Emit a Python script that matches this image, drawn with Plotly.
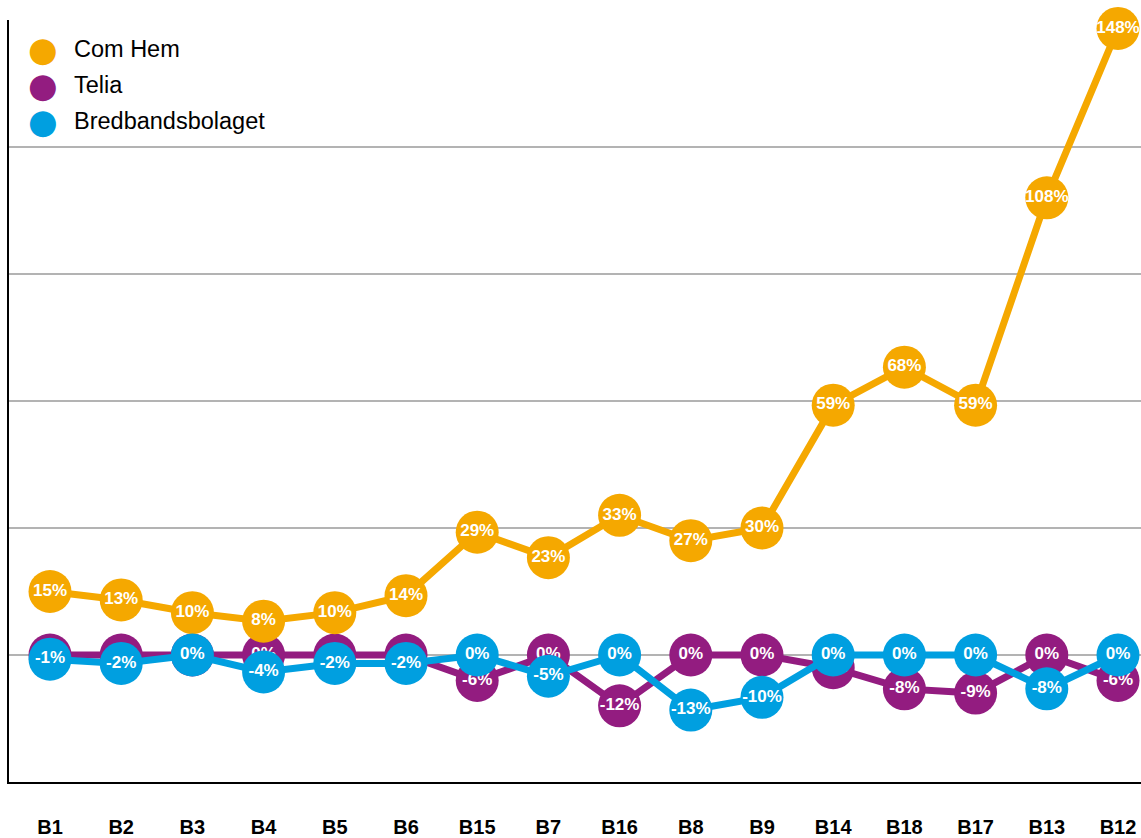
import plotly.graph_objects as go

categories = ["B1", "B2", "B3", "B4", "B5", "B6", "B15", "B7", "B16", "B8",
              "B9", "B14", "B18", "B17", "B13", "B12"]
com_hem = [15, 13, 10, 8, 10, 14, 29, 23, 33, 27, 30, 59, 68, 59, 108, 148]
telia = [0, 0, 0, 0, 0, 0, -6, 0, -12, 0, 0, -3, -8, -9, 0, -6]
bredband = [-1, -2, 0, -4, -2, -2, 0, -5, 0, -13, -10, 0, 0, 0, -8, 0]

series = [
    ("Telia", telia, "#931C80"),
    ("Com Hem", com_hem, "#F5A800"),
    ("Bredbandsbolaget", bredband, "#009FE0"),
]
legend_order = [("Com Hem", "#F5A800"), ("Telia", "#931C80"), ("Bredbandsbolaget", "#009FE0")]

FONT = "Liberation Sans, Arial, Helvetica, sans-serif"

W, H = 1141, 838
ML, MT, MB = 9, 20, 838 - 785
PW, PH = W - ML, H - MT - MB

fig = go.Figure()
for name, vals, color in series:
    fig.add_trace(go.Scatter(
        x=list(range(len(categories))), y=vals, name=name,
        mode="lines+markers+text",
        line=dict(color=color, width=7),
        marker=dict(color=color, size=43, line=dict(width=0)),
        text=[f"<b>{v}%</b>" for v in vals],
        textposition="middle center",
        textfont=dict(color="white", size=17, family=FONT),
        cliponaxis=False,
        showlegend=False,
        hoverinfo="skip",
    ))

# custom legend (large circles)
for i, (name, color) in enumerate(legend_order):
    ypix = 49 + i * 36 - MT
    fig.add_annotation(text="●", xref="paper", yref="paper",
                       x=(43 - ML) / PW, y=1 - ypix / PH,
                       xanchor="center", yanchor="middle", showarrow=False,
                       font=dict(size=34, color=color, family="DejaVu Sans"))
    fig.add_annotation(text=name, xref="paper", yref="paper",
                       x=(72 - ML) / PW, y=1 - ypix / PH,
                       xanchor="left", yanchor="middle", showarrow=False,
                       font=dict(size=23.5, color="black", family=FONT))

sp = 71.2
fig.update_xaxes(
    tickmode="array", tickvals=list(range(len(categories))),
    ticktext=[f"<b>{c}</b>" for c in categories],
    range=[-(50 - ML) / sp, -(50 - ML) / sp + PW / sp],
    showgrid=False, zeroline=False,
    showline=True, linecolor="black", linewidth=2,
    ticks="", ticklabelstandoff=26,
    tickfont=dict(size=20, color="black", family=FONT),
)
fig.update_yaxes(
    range=[-30, 150], tickvals=[0, 30, 60, 90, 120, 150],
    showticklabels=False, showgrid=True, gridcolor="#B3B3B3", gridwidth=1.5,
    zeroline=False, showline=True, linecolor="black", linewidth=2, ticks="",
)
fig.update_layout(
    width=W, height=H,
    margin=dict(l=ML, r=0, t=MT, b=MB),
    paper_bgcolor="white", plot_bgcolor="white",
    showlegend=False,
    font=dict(family=FONT),
)
fig.write_html(
    "out.html",
    config={"displayModeBar": False},
    post_script=(
        "document.documentElement.style.overflow='hidden';"
        "document.body.style.margin='0px';"
        "document.body.style.overflow='hidden';"
        "document.body.style.height='838px';"
    ),
)
